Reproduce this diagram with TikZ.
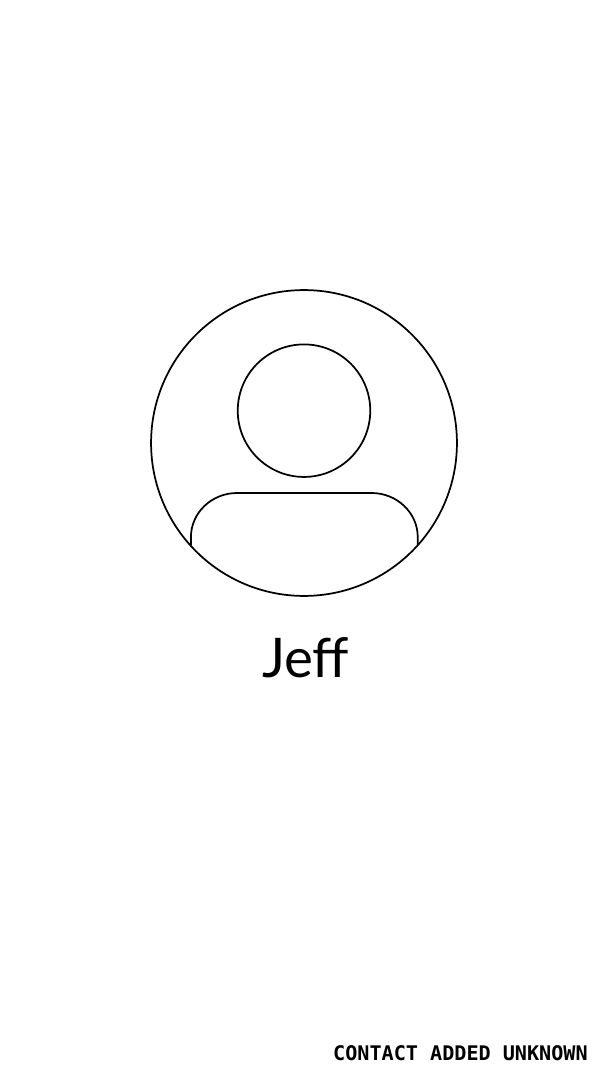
\documentclass[tikz,border=0pt]{standalone}
\usepackage{fontspec}
\setmainfont{Lato}
\setmonofont{DejaVu Sans Mono}
\usepackage{xcolor}

\begin{document}
\begin{tikzpicture}[x=1pt,y=-1pt]
        \useasboundingbox (0,0) rectangle (456,810);

        \coordinate (C) at (228,332.25);
        \coordinate (H) at (228,308);
        \coordinate (L) at (143.2,409);
        \coordinate (R) at (313.3,409);

        % outer ring, head, shoulders
        \draw[line width=1.3pt] (C) circle (114.7);
        \draw[line width=1.3pt] (H) circle (49.7);
        \draw[line width=1.3pt] (L) -- (143.2,402.75) .. controls (143.2,384.6) and (158.8,369.75) .. (177.75,369.75)
                -- (278.7,369.75) .. controls (297.7,369.75) and (313.3,384.6) .. (313.3,402.75) -- (R);

        \node[inner sep=0pt,anchor=base] (name) at (229.3,507.75) {\fontsize{41}{41}\selectfont Jeff};
        \node[inner sep=0pt,anchor=east] (status) at (441,790) {\fontsize{15.1}{16}\selectfont\ttfamily\bfseries CONTACT ADDED UNKNOWN};
\end{tikzpicture}
\end{document}
